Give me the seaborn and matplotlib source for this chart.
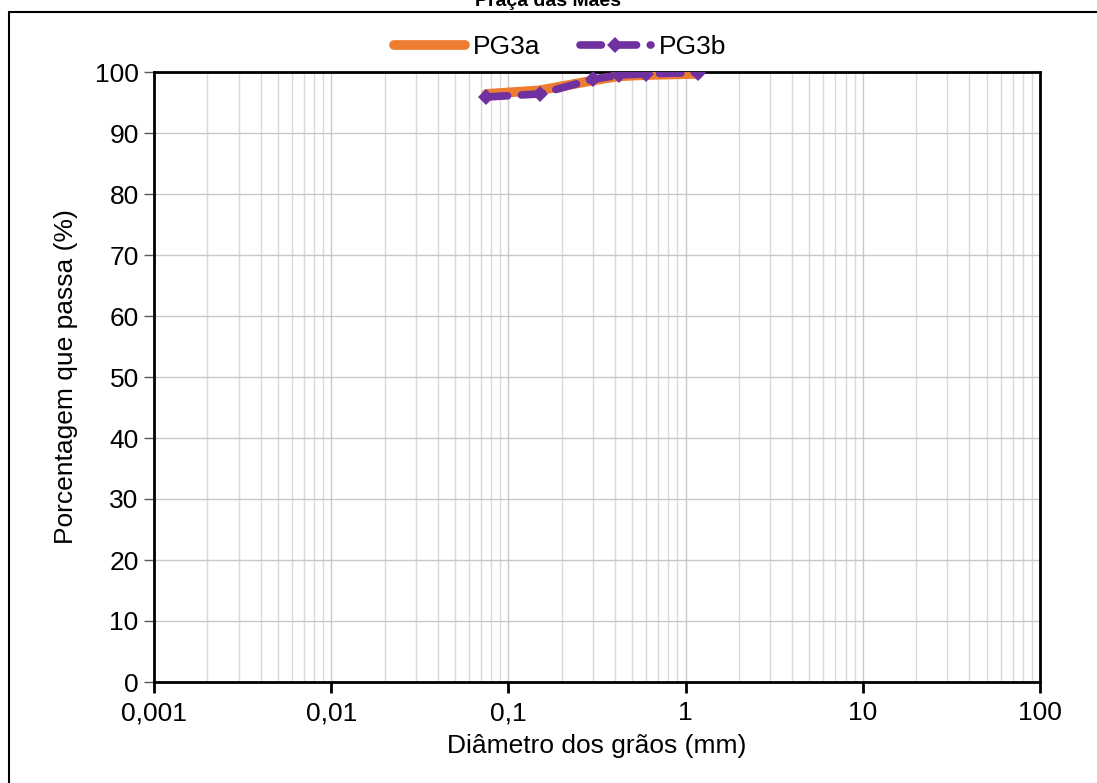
import numpy as np
import pandas as pd
import matplotlib
matplotlib.use("Agg")
import matplotlib.pyplot as plt
import seaborn as sns
from matplotlib.ticker import LogLocator, FixedLocator, NullFormatter
from matplotlib.lines import Line2D

# ----------------------------
# dados (curva granulométrica)
# ----------------------------
diametro = [0.075, 0.15, 0.30, 0.42, 0.60, 1.18]
pg3a = [96.4, 97.0, 98.6, 99.3, 99.5, 99.7]
pg3b = [95.9, 96.4, 98.8, 99.5, 99.7, 99.9]
x_ticks = [0.001, 0.01, 0.1, 1, 10, 100]
x_labels = ["0,001", "0,01", "0,1", "1", "10", "100"]
y_ticks = list(range(0, 101, 10))

sns.set_style("white")
plt.rcParams["font.family"] = ["Liberation Sans", "DejaVu Sans"]
plt.rcParams["text.color"] = "black"
plt.rcParams["axes.labelcolor"] = "black"
plt.rcParams["xtick.color"] = "black"
plt.rcParams["ytick.color"] = "black"

fig = plt.figure(figsize=(10.97, 7.83), dpi=100)
ax = fig.add_axes([154 / 1097, 101 / 783, 886 / 1097, 610 / 783])

df_a = pd.DataFrame({"d": diametro, "p": pg3a})
df_b = pd.DataFrame({"d": diametro, "p": pg3b})

sns.lineplot(data=df_a, x="d", y="p", ax=ax, sort=False, color="#ED7D31",
             linewidth=7, solid_capstyle="round", label="PG3a", zorder=3)
sns.lineplot(data=df_b, x="d", y="p", ax=ax, sort=False, color="#7030A0",
             linewidth=5.5, linestyle=(0, (2.8, 1.8)), dash_capstyle="round",
             marker="D", markersize=8, markeredgewidth=0, label="PG3b", zorder=4)

ax.set_xscale("log")
ax.set_xlim(0.001, 100)
ax.set_ylim(0, 100)
ax.xaxis.set_major_locator(FixedLocator(x_ticks))
ax.set_xticklabels(x_labels)
ax.xaxis.set_minor_locator(LogLocator(base=10, subs=range(2, 10)))
ax.xaxis.set_minor_formatter(NullFormatter())
ax.set_yticks(y_ticks)

# grade
ax.grid(True, which="major", axis="both", color="#c8c8c8", linewidth=1)
ax.grid(True, which="minor", axis="x", color="#d9d9d9", linewidth=1)
ax.set_axisbelow(True)

for s in ax.spines.values():
    s.set_visible(True)
    s.set_color("black")
    s.set_linewidth(2)

ax.tick_params(axis="x", which="major", direction="out", length=8, width=2,
               color="black", labelsize=19, pad=6, bottom=True)
ax.tick_params(axis="x", which="minor", length=0)
ax.tick_params(axis="y", which="major", direction="out", length=7, width=1,
               color="#595959", labelsize=19, pad=4, left=True)

ax.set_xlabel("Diâmetro dos grãos (mm)", fontsize=19, labelpad=6)
ax.set_ylabel("Porcentagem que passa (%)", fontsize=19, labelpad=12)

ax.get_legend().remove()
h, l = ax.get_legend_handles_labels()
fig.legend(h, l, loc="center", bbox_to_anchor=(560 / 1097, 1 - 47 / 783), ncol=2,
           frameon=False, fontsize=19, handlelength=2.7, columnspacing=1.5,
           handletextpad=0.3)

# moldura da área do gráfico (cortada)
fig.add_artist(Line2D([9 / 1097, 1], [1 - 12 / 783, 1 - 12 / 783], color="black",
                      linewidth=1.5, transform=fig.transFigure))
fig.add_artist(Line2D([9 / 1097, 9 / 1097], [0, 1 - 12 / 783], color="black",
                      linewidth=1.5, transform=fig.transFigure))

fig.text(548 / 1097, 1 - 6 / 783, "Praça das Mães", ha="center", va="baseline",
         fontsize=14, fontweight="bold")

fig.savefig("out.png", dpi=100)
